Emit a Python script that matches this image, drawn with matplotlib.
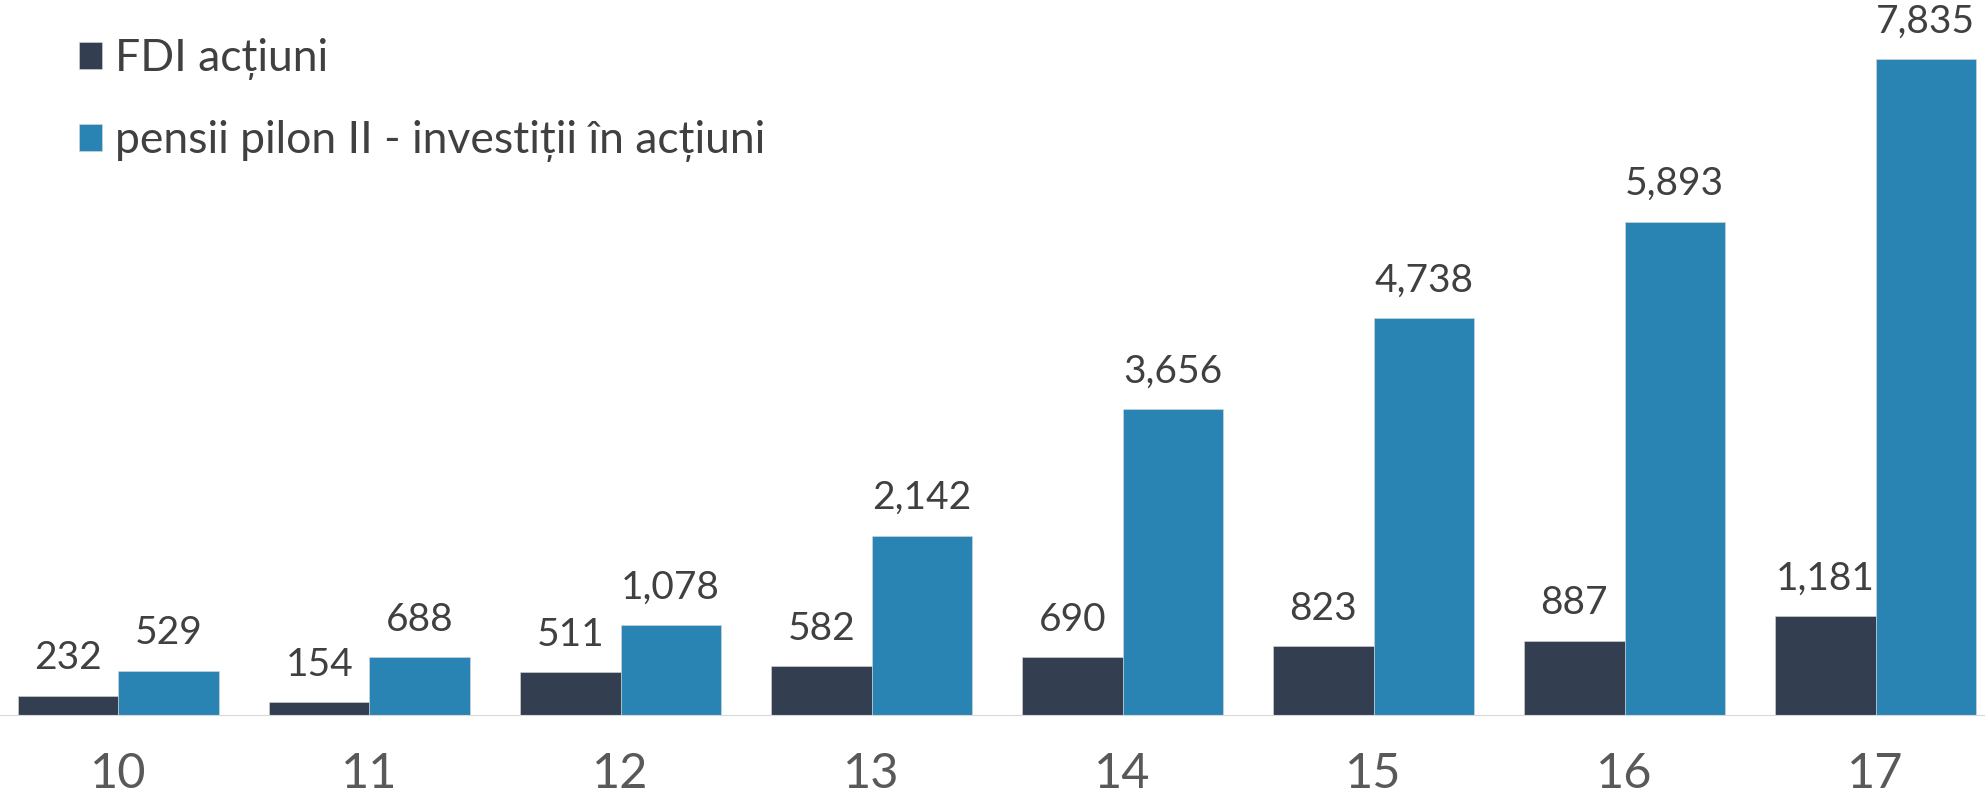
import matplotlib
matplotlib.use("Agg")
import matplotlib.pyplot as plt
import numpy as np

plt.rcParams['font.family'] = ['Lato', 'DejaVu Sans']

# date
ani = ["10", "11", "12", "13", "14", "15", "16", "17"]
fdi = [232, 154, 511, 582, 690, 823, 887, 1181]
pensii = [529, 688, 1078, 2142, 3656, 4738, 5893, 7835]
serii = ["FDI acțiuni", "pensii pilon II - investiții în acțiuni"]
culori = ["#333F50", "#2984B3"]

fig = plt.figure(figsize=(19.85, 7.97), dpi=100)
ax = fig.add_axes([0, 82 / 797, 1, 715 / 797])

x = np.arange(len(ani))
w = 0.4
b1 = ax.bar(x - w / 2, fdi, w, color=culori[0], edgecolor="#D9D9D9", linewidth=0.4, label=serii[0])
b2 = ax.bar(x + w / 2, pensii, w, color=culori[1], edgecolor="#D9D9D9", linewidth=0.4, label=serii[1])

# etichete valori
for bars in (b1, b2):
    ax.bar_label(bars, labels=[f"{v:,}" for v in bars.datavalues], padding=14,
                 fontsize=28, color="#404040")

ax.set_xlim(-0.472, 7.436)
ax.set_ylim(0, 8539)
ax.set_xticks(x)
ax.set_xticklabels(ani, fontsize=35, color="#595959")
ax.tick_params(axis="x", length=0, pad=27)
ax.set_yticks([])
for s in ["top", "right", "left"]:
    ax.spines[s].set_visible(False)
ax.spines["bottom"].set_color("#D9D9D9")
ax.spines["bottom"].set_linewidth(0.8)

leg = ax.legend(loc="upper left", bbox_to_anchor=(79 / 1985, 1 - 38 / 797),
                bbox_transform=fig.transFigure, frameon=False, fontsize=32,
                handlelength=0.52, handleheight=0.55, handletextpad=0.28,
                labelspacing=0.9, borderpad=0, borderaxespad=0)
for t in leg.get_texts():
    t.set_color("#404040")

fig.savefig("out.png", dpi=100)
